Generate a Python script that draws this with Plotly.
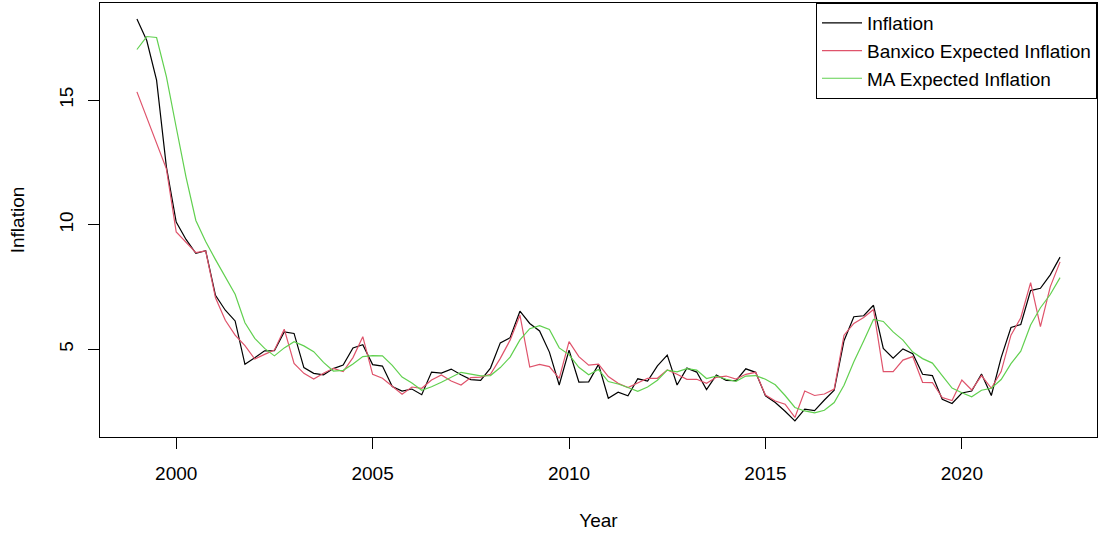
import numpy as np
import pandas as pd
import plotly.graph_objects as go

# Quarterly observations, 1999Q1 .. 2022Q3
quarters = pd.period_range("1999Q1", "2022Q3", freq="Q")

inflation = [
    18.25, 17.39, 15.80, 12.32, 10.11, 9.41, 8.85, 8.96, 7.17, 6.57,
    6.14, 4.40, 4.66, 4.94, 4.95, 5.70, 5.64, 4.27, 4.04, 3.98,
    4.23, 4.37, 5.06, 5.19, 4.39, 4.33, 3.51, 3.33, 3.41, 3.18,
    4.09, 4.05, 4.21, 3.98, 3.79, 3.76, 4.25, 5.26, 5.47, 6.53,
    6.04, 5.74, 4.89, 3.57, 4.97, 3.69, 3.70, 4.40, 3.04, 3.28,
    3.14, 3.82, 3.73, 4.34, 4.77, 3.57, 4.25, 4.09, 3.39, 3.97,
    3.76, 3.75, 4.22, 4.08, 3.14, 2.87, 2.52, 2.13, 2.60, 2.54,
    2.97, 3.36, 5.35, 6.31, 6.35, 6.77, 5.04, 4.65, 5.02, 4.83,
    4.00, 3.95, 3.00, 2.83, 3.25, 3.33, 4.01, 3.15, 4.67, 5.88,
    6.00, 7.36, 7.45, 7.99, 8.70,
]

banxico_expected = [
    15.33, 14.31, 13.30, 12.24, 9.71, 9.31, 8.88, 8.95, 7.07, 6.17,
    5.57, 5.15, 4.61, 4.80, 4.97, 5.81, 4.44, 4.04, 3.81, 4.04,
    4.24, 4.11, 4.67, 5.51, 4.00, 3.84, 3.51, 3.20, 3.49, 3.44,
    3.77, 3.97, 3.73, 3.57, 3.87, 3.89, 4.00, 4.64, 5.37, 6.37,
    4.29, 4.40, 4.31, 3.84, 5.31, 4.71, 4.37, 4.41, 3.91, 3.64,
    3.47, 3.64, 3.84, 3.84, 4.17, 4.00, 3.80, 3.80, 3.64, 3.88,
    3.93, 3.81, 4.00, 4.08, 3.17, 2.93, 2.80, 2.27, 3.33, 3.15,
    3.21, 3.41, 5.57, 6.04, 6.28, 6.60, 4.11, 4.11, 4.57, 4.71,
    3.68, 3.67, 3.07, 2.95, 3.77, 3.37, 3.95, 3.44, 4.11, 5.57,
    6.27, 7.68, 5.91, 7.51, 8.51,
]

ma_expected = [
    17.03, 17.55, 17.51, 15.94, 13.91, 11.91, 10.17, 9.33, 8.60, 7.89,
    7.21, 6.07, 5.44, 5.04, 4.74, 5.06, 5.31, 5.14, 4.91, 4.48,
    4.13, 4.16, 4.41, 4.71, 4.75, 4.74, 4.36, 3.89, 3.65, 3.36,
    3.50, 3.68, 3.88, 4.08, 4.01, 3.94, 3.95, 4.27, 4.69, 5.38,
    5.83, 5.95, 5.80, 5.06, 4.79, 4.28, 3.98, 4.19, 3.71, 3.61,
    3.47, 3.32, 3.49, 3.76, 4.17, 4.10, 4.23, 4.17, 3.83, 3.93,
    3.80, 3.72, 3.93, 3.95, 3.80, 3.58, 3.15, 2.67, 2.53, 2.45,
    2.56, 2.87, 3.56, 4.50, 5.34, 6.20, 6.12, 5.70, 5.37, 4.89,
    4.63, 4.45, 3.95, 3.45, 3.26, 3.10, 3.36, 3.44, 3.79, 4.43,
    4.93, 5.98, 6.67, 7.20, 7.88,
]

year_ticks = [2000, 2005, 2010, 2015, 2020]
infl_ticks = [5, 10, 15]

# decimal time of each quarter (1999.00, 1999.25, ...)
t = np.array([q.year + (q.quarter - 1) / 4 for q in quarters])

series = [
    ("Inflation", inflation, "#000000"),
    ("Banxico Expected Inflation", banxico_expected, "#DF536B"),
    ("MA Expected Inflation", ma_expected, "#61D04F"),
]

fig = go.Figure()
for name, vals, col in series:
    fig.add_trace(go.Scatter(
        x=t, y=vals, mode="lines", name=name,
        line=dict(color=col, width=1.2),
    ))

# axis limits padded by 4% on each side
def padded(lo, hi):
    d = (hi - lo) * 0.04
    return [lo - d, hi + d]

all_y = np.concatenate([inflation, banxico_expected, ma_expected])
xr = padded(t.min(), t.max())
yr = padded(all_y.min(), all_y.max())

font = dict(family="Liberation Sans, Arial, sans-serif", size=19, color="#000000")

fig.update_layout(
    width=1100, height=536,
    margin=dict(l=100, r=3, t=3, b=99),
    paper_bgcolor="white", plot_bgcolor="white",
    font=font,
    showlegend=True,
    legend=dict(
        x=1, y=1, xanchor="right", yanchor="top",
        bordercolor="#000000", borderwidth=1,
        bgcolor="white",
        font=font,
        itemwidth=40,
        tracegroupgap=0,
    ),
)

fig.update_xaxes(
    range=xr, tickmode="array", tickvals=year_ticks,
    ticktext=[str(v) for v in year_ticks],
    showgrid=False, zeroline=False,
    showline=True, mirror=True, linecolor="#000000", linewidth=1,
    ticks="outside", ticklen=11, tickcolor="#000000", tickwidth=1,
    ticklabelstandoff=8,
    tickfont=font,
    title=dict(text="Year", font=font, standoff=30),
)
fig.update_yaxes(
    range=yr, tickmode="array", tickvals=infl_ticks,
    ticktext=[str(v) for v in infl_ticks],
    showgrid=False, zeroline=False,
    showline=True, mirror=True, linecolor="#000000", linewidth=1,
    ticks="outside", ticklen=11, tickcolor="#000000", tickwidth=1,
    ticklabelstandoff=7,
    tickangle=-90, tickfont=font,
    title=dict(text="Inflation", font=font, standoff=26),
)

fig.write_html("out.html")
